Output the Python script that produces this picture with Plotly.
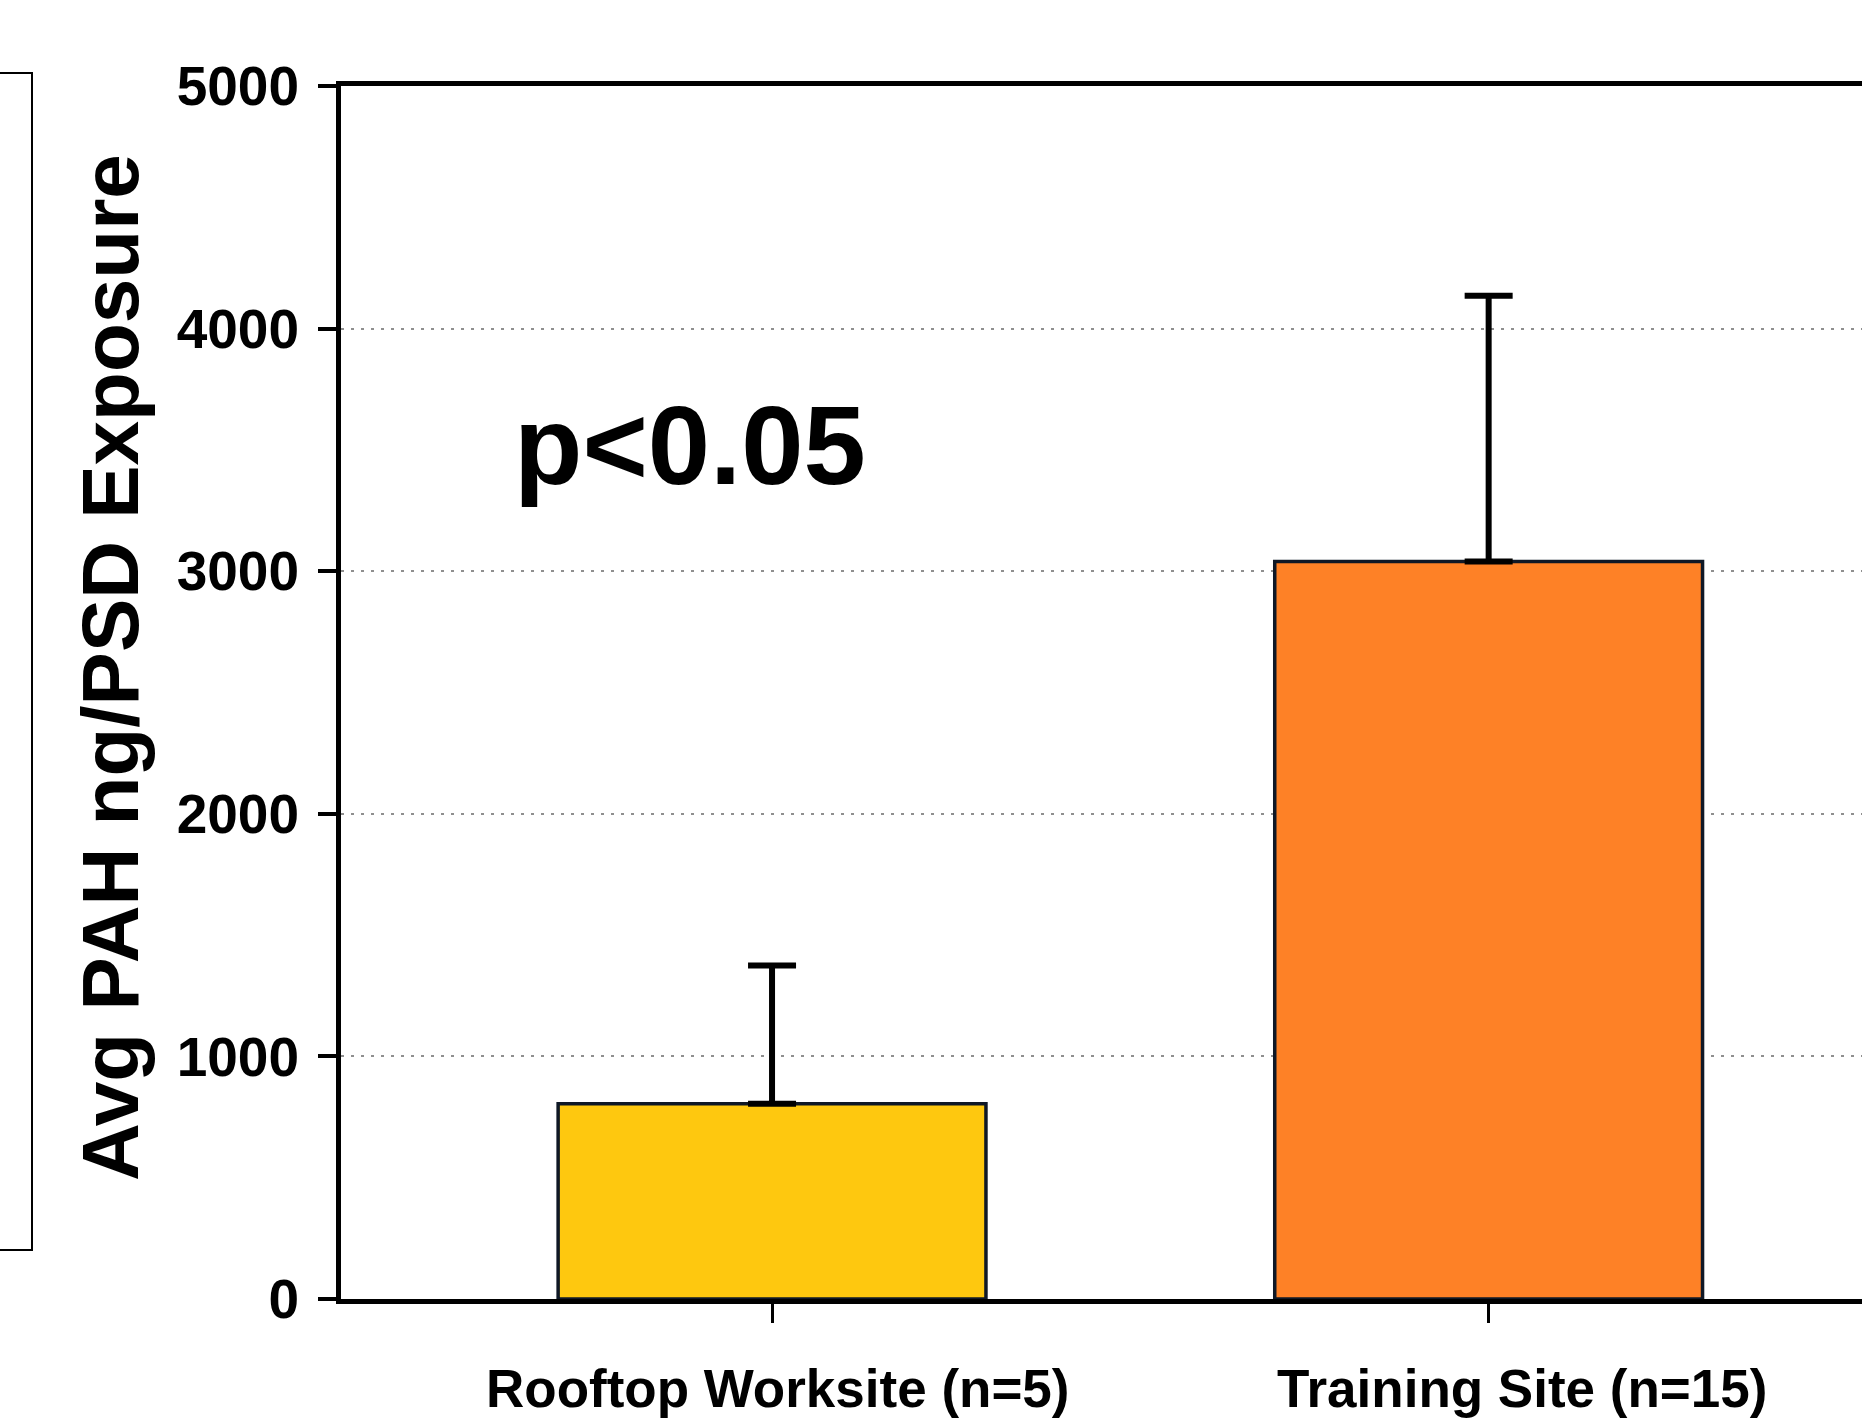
import plotly.graph_objects as go

# Average PAH mass per passive sampling device, by site
categories = ["Rooftop Worksite (n=5)", "Training Site (n=15)"]
mean_pah = [805, 3040]
sd_pah = [570, 1095]
bar_colors = ["#FEC80F", "#FE8126"]
y_ticks = [0, 1000, 2000, 3000, 4000, 5000]
# horizontal nudge of each category caption relative to its bar (category units)
label_nudge = [0.008, 0.047]

W, H = 1862, 1421
M_L, M_R, M_T, M_B = 341, 0, 86, 122
plot_w = W - M_L - M_R
plot_h = H - M_T - M_B


def px_to_paper_x(px):
    return (px - M_L) / plot_w


def px_to_paper_y(py):
    return (H - M_B - py) / plot_h


font_family = "Liberation Sans, Arial, sans-serif"
xs = list(range(len(categories)))

fig = go.Figure()
fig.add_trace(go.Bar(
    x=xs,
    y=mean_pah,
    width=0.597,
    marker=dict(color=bar_colors, line=dict(color="#0f1826", width=3.5)),
    error_y=dict(type="data", array=sd_pah, arrayminus=[0] * len(sd_pah),
                 symmetric=False, color="black", thickness=6, width=24),
    showlegend=False,
))

annotations = [
    dict(text="Avg PAH ng/PSD Exposure", textangle=-90,
         xref="paper", yref="paper",
         x=px_to_paper_x(110), y=px_to_paper_y(668),
         xanchor="center", yanchor="middle", showarrow=False,
         font=dict(family=font_family, size=80, color="black", weight="bold")),
    dict(text="p<0.05", xref="x", yref="y", x=-0.114, y=3520,
         xanchor="center", yanchor="middle", showarrow=False,
         font=dict(family=font_family, size=112, color="black", weight="bold")),
]
for i, (cat, dx) in enumerate(zip(categories, label_nudge)):
    annotations.append(dict(
        text=cat, xref="x", yref="paper", x=xs[i] + dx, y=px_to_paper_y(1388),
        xanchor="center", yanchor="middle", showarrow=False,
        font=dict(family=font_family, size=53, color="black", weight="bold"),
    ))

fig.update_layout(
    width=W, height=H, autosize=False,
    margin=dict(l=M_L, r=M_R, t=M_T, b=M_B, pad=0),
    paper_bgcolor="white", plot_bgcolor="white",
    xaxis=dict(
        range=[-0.6015, 1.521], automargin=False,
        tickmode="array", tickvals=xs, showticklabels=False,
        ticks="outside", ticklen=19, tickwidth=3, tickcolor="black",
        showline=True, linecolor="black", linewidth=5, mirror=True,
        showgrid=False, zeroline=False,
    ),
    yaxis=dict(
        range=[0, 5000], automargin=False,
        tickmode="array", tickvals=y_ticks, tickformat="d",
        ticks="outside", ticklen=18, tickwidth=3.5, tickcolor="black",
        ticklabelstandoff=8,
        tickfont=dict(family=font_family, size=55, color="black", weight="bold"),
        showline=True, linecolor="black", linewidth=5, mirror=False,
        showgrid=True, gridcolor="#8f8f8f", gridwidth=2, griddash="3px,7px",
        zeroline=False,
    ),
    annotations=annotations,
    shapes=[
        # right edge of the neighbouring panel's frame
        dict(type="rect", xref="paper", yref="paper",
             x0=px_to_paper_x(-20), x1=px_to_paper_x(32),
             y0=px_to_paper_y(1250), y1=px_to_paper_y(73),
             line=dict(color="black", width=2), fillcolor="rgba(0,0,0,0)"),
    ],
)

fig.write_html("out.html")
